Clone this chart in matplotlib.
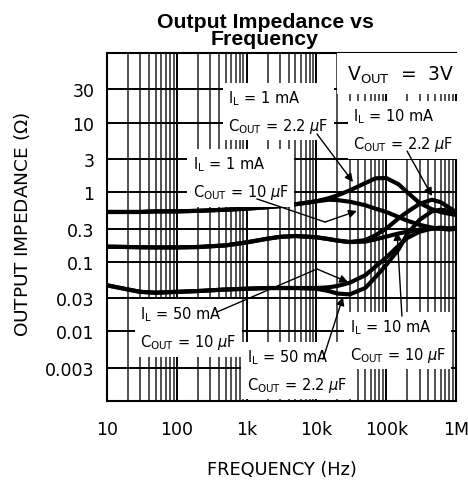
import numpy as np
import matplotlib
matplotlib.use("Agg")
import matplotlib.pyplot as plt

# frequency points (Hz)
freq = [10, 20, 30, 50, 100, 200, 500, 1e3, 2e3, 3e3, 5e3, 1e4, 1.5e4, 2e4,
        3e4, 5e4, 7e4, 1e5, 1.5e5, 2e5, 3e5, 4.5e5, 6e5, 8e5, 1e6]

# output impedance (ohm) for each load / capacitor combination
z_1ma_22u = [0.52, 0.52, 0.52, 0.53, 0.53, 0.54, 0.56, 0.58, 0.61, 0.63, 0.67, 0.74, 0.82,
             0.90, 1.06, 1.35, 1.58, 1.60, 1.30, 1.00, 0.70, 0.57, 0.52, 0.49, 0.47]
z_1ma_10u = [0.52, 0.52, 0.52, 0.53, 0.53, 0.54, 0.56, 0.58, 0.61, 0.63, 0.67, 0.74, 0.78,
             0.77, 0.73, 0.65, 0.58, 0.52, 0.44, 0.39, 0.34, 0.31, 0.30, 0.30, 0.31]
z_10ma_22u = [0.165, 0.163, 0.162, 0.161, 0.161, 0.163, 0.172, 0.19, 0.215, 0.228, 0.235, 0.225,
              0.212, 0.202, 0.192, 0.205, 0.24, 0.30, 0.42, 0.52, 0.68, 0.78, 0.72, 0.60, 0.52]
z_10ma_10u = [0.165, 0.163, 0.162, 0.161, 0.161, 0.163, 0.172, 0.19, 0.215, 0.228, 0.235, 0.225,
              0.212, 0.202, 0.192, 0.195, 0.21, 0.23, 0.255, 0.27, 0.29, 0.30, 0.30, 0.29, 0.30]
z_50ma_10u = [0.046, 0.040, 0.037, 0.036, 0.037, 0.038, 0.040, 0.041, 0.042, 0.042, 0.042, 0.042,
              0.043, 0.045, 0.050, 0.064, 0.085, 0.115, 0.17, 0.22, 0.27, 0.30, 0.31, 0.30, 0.30]
z_50ma_22u = [0.046, 0.040, 0.037, 0.036, 0.037, 0.038, 0.040, 0.041, 0.042, 0.042, 0.042, 0.041,
              0.038, 0.035, 0.034, 0.042, 0.060, 0.090, 0.15, 0.25, 0.40, 0.53, 0.56, 0.54, 0.52]

curves = [z_1ma_22u, z_1ma_10u, z_10ma_22u, z_10ma_10u, z_50ma_10u, z_50ma_22u]

ytick_vals = [0.003, 0.01, 0.03, 0.1, 0.3, 1, 3, 10, 30]
ytick_labels = ["0.003", "0.01", "0.03", "0.1", "0.3", "1", "3", "10", "30"]
xtick_vals = [10, 100, 1e3, 1e4, 1e5, 1e6]
xtick_labels = ["10", "100", "1k", "10k", "100k", "1M"]

plt.rcParams['font.family'] = ['DejaVu Sans']

fig = plt.figure(figsize=(4.68, 4.81), dpi=100)
ax = fig.add_axes([107/468, 79/481, 349/468, 348/481])

for z in curves:
    ax.plot(freq, z, color='k', lw=3.0, solid_capstyle='round', zorder=4)

ax.set_xscale('log')
ax.set_yscale('log')
ax.set_xlim(10, 1e6)
ax.set_ylim(0.001, 100)

ax.set_yticks(ytick_vals)
ax.set_yticklabels(ytick_labels)
ax.yaxis.set_minor_locator(matplotlib.ticker.NullLocator())
ax.set_xticks(xtick_vals)
ax.set_xticklabels(xtick_labels)
ax.xaxis.set_minor_locator(matplotlib.ticker.LogLocator(base=10, subs=np.arange(2, 10)))
ax.xaxis.set_minor_formatter(matplotlib.ticker.NullFormatter())
ax.tick_params(which='both', length=0)
ax.tick_params(axis='y', pad=9, labelsize=12.5)
ax.tick_params(axis='x', pad=14, labelsize=12.5)

ax.grid(which='major', axis='both', color='k', lw=1.4, zorder=1)
ax.grid(which='minor', axis='x', color='#222222', lw=1.1, zorder=1)
ax.set_axisbelow(True)
for s in ax.spines.values():
    s.set_linewidth(1.5)

fig.text(265/468, 1 - 31/481, "Output Impedance vs\nFrequency", ha='center', va='center',
         fontsize=15.3, fontweight='bold', family='Liberation Sans', linespacing=0.88)
fig.text(282/468, 1 - 470/481, "FREQUENCY (Hz)", ha='center', va='center', fontsize=12.8)
fig.text(22/468, 1 - 225/481, "OUTPUT IMPEDANCE ($\\Omega$)", ha='center', va='center',
         rotation=90, fontsize=13.3)

box = dict(facecolor='white', edgecolor='none', pad=4)
labels = [
    (0.347, 0.832, "$\\mathregular{I_L}$ = 1 mA\n$\\mathregular{C_{OUT}}$ = 2.2 $\\mu$F"),
    (0.705, 0.780, "$\\mathregular{I_L}$ = 10 mA\n$\\mathregular{C_{OUT}}$ = 2.2 $\\mu$F"),
    (0.246, 0.642, "$\\mathregular{I_L}$ = 1 mA\n$\\mathregular{C_{OUT}}$ = 10 $\\mu$F"),
    (0.095, 0.211, "$\\mathregular{I_L}$ = 50 mA\n$\\mathregular{C_{OUT}}$ = 10 $\\mu$F"),
    (0.401, 0.088, "$\\mathregular{I_L}$ = 50 mA\n$\\mathregular{C_{OUT}}$ = 2.2 $\\mu$F"),
    (0.696, 0.174, "$\\mathregular{I_L}$ = 10 mA\n$\\mathregular{C_{OUT}}$ = 10 $\\mu$F"),
]
for lx, ly, txt in labels:
    ax.text(lx, ly, txt, transform=ax.transAxes, ha='left', va='center', fontsize=10.5,
            linespacing=1.65, bbox=box, zorder=5)

ax.text(0.688, 0.94, "$\\mathregular{V_{OUT}}$  =  3V", transform=ax.transAxes, ha='left',
        va='center', fontsize=13.5, bbox=dict(facecolor='white', edgecolor='none', pad=7), zorder=5)

# leader lines: (start, optional bend, arrow tip) in data units
leaders = [
    [(1.02e4, 6.86), (3.34e4, 1.40)],
    [(1.99e5, 3.9), (4.53e5, 0.88)],
    [(1.41e3, 0.8), (1.33e4, 0.373), (3.8e4, 0.537)],
    [(377, 0.019), (1.02e4, 0.0788), (2.84e4, 0.051)],
    [(1.24e4, 0.004), (2.4e4, 0.031)],
    [(1.68e5, 0.0166), (1.43e5, 0.268)],
]
for pts in leaders:
    for a, b in zip(pts[:-2], pts[1:-1]):
        ax.plot([a[0], b[0]], [a[1], b[1]], color='k', lw=1.0, zorder=6)
    ax.annotate("", xy=pts[-1], xytext=pts[-2], zorder=6,
                arrowprops=dict(arrowstyle='-|>', color='k', lw=1.0, mutation_scale=12,
                                shrinkA=0, shrinkB=0))

fig.savefig("out.png", dpi=100)
